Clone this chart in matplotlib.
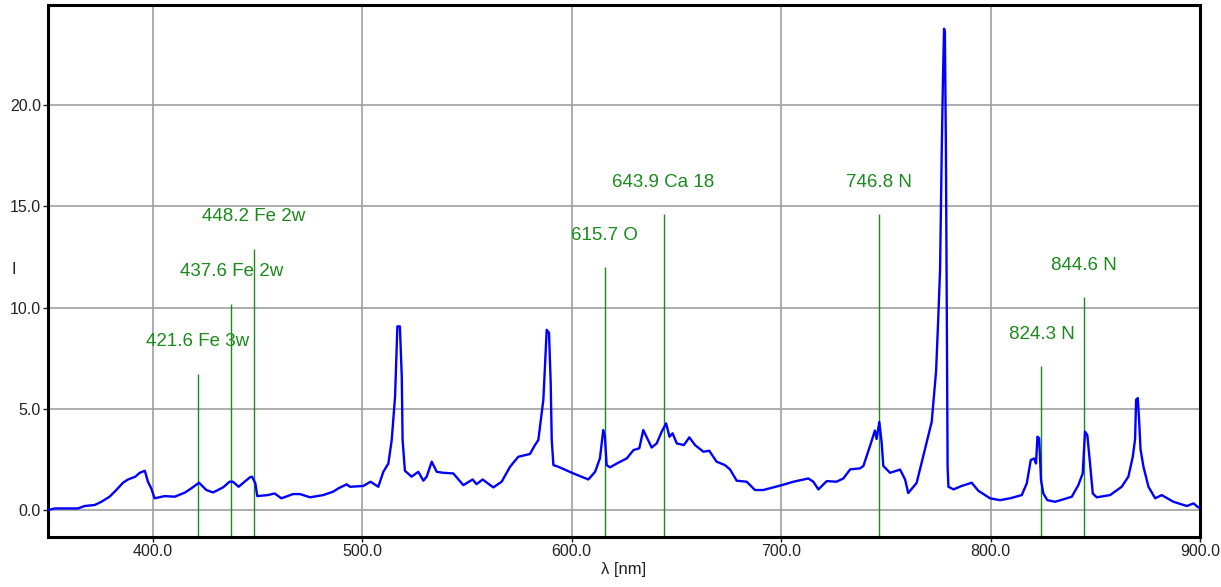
import matplotlib
matplotlib.use("Agg")
import matplotlib.pyplot as plt

plt.rcParams['font.family'] = ['Liberation Sans', 'DejaVu Sans']

# spectrum (wavelength nm, intensity)
wavelength = [350.0, 353.2, 364.3, 367.5, 372.3, 375.5, 379.4, 382.6, 385.8, 388.2, 391.7, 393.8,
              396.2, 396.6, 397.7, 399.3, 400.9, 405.7, 410.5, 415.3, 418.4, 422.1, 425.6, 428.8,
              433.6, 436.7, 438.3, 441.0, 443.9, 446.3, 447.4, 449.0, 449.9, 455.0, 458.2, 461.4,
              467.0, 470.3, 475.1, 481.4, 486.2, 488.6, 492.6, 494.2, 500.5, 504.0, 507.7, 510.1,
              512.5, 514.1, 515.7, 516.8, 518.0, 518.9, 519.3, 520.4, 523.6, 526.8, 529.2, 530.8,
              533.2, 535.6, 538.7, 543.5, 548.3, 552.7, 554.6, 557.5, 562.6, 566.6, 570.6, 574.5,
              580.1, 582.5, 584.1, 586.5, 588.1, 589.2, 590.0, 590.5, 591.3, 593.6, 600.8, 608.0,
              611.2, 613.5, 615.1, 615.9, 616.7, 618.3, 622.3, 626.3, 629.5, 632.3, 634.2, 636.1,
              638.2, 640.6, 643.0, 645.1, 646.7, 648.2, 650.2, 653.6, 656.2, 658.9, 662.9, 665.7,
              669.2, 673.2, 675.6, 678.8, 683.6, 687.5, 691.5, 696.3, 700.3, 705.9, 713.0, 715.4,
              717.8, 721.8, 726.5, 729.7, 733.0, 737.7, 739.3, 742.5, 744.8, 745.6, 746.9, 748.0,
              748.8, 752.0, 756.8, 759.2, 760.7, 764.7, 768.7, 771.9, 774.0, 775.0, 775.9, 776.7,
              777.3, 777.8, 778.2, 778.7, 779.2, 779.5, 779.9, 782.3, 786.2, 791.0, 794.2, 799.8,
              804.5, 809.3, 814.9, 817.3, 819.2, 820.8, 821.7, 822.4, 823.2, 824.1, 825.2, 827.1,
              830.8, 834.8, 838.8, 841.9, 844.0, 845.1, 846.2, 847.5, 848.8, 850.7, 857.1, 862.6,
              865.8, 867.9, 869.0, 869.5, 870.3, 871.0, 871.6, 873.0, 875.4, 878.6, 881.7, 887.3,
              893.7, 896.9, 899.2, 900.0]
intensity = [0.0, 0.08, 0.08, 0.2, 0.25, 0.41, 0.66, 0.99, 1.35, 1.51, 1.65, 1.84,
             1.94, 1.81, 1.40, 1.07, 0.58, 0.69, 0.66, 0.86, 1.07, 1.35, 0.99, 0.87,
             1.12, 1.40, 1.40, 1.15, 1.40, 1.61, 1.65, 1.32, 0.69, 0.74, 0.82, 0.58,
             0.79, 0.79, 0.63, 0.74, 0.91, 1.07, 1.27, 1.15, 1.19, 1.40, 1.15, 1.89,
             2.30, 3.46, 5.6, 9.07, 9.07, 6.6, 3.46, 1.94, 1.65, 1.89, 1.45, 1.65,
             2.39, 1.89, 1.84, 1.81, 1.23, 1.51, 1.28, 1.51, 1.12, 1.40, 2.14, 2.63,
             2.77, 3.21, 3.46, 5.45, 8.9, 8.75, 6.27, 3.46, 2.22, 2.14, 1.81, 1.51,
             1.89, 2.55, 3.95, 3.62, 2.22, 2.11, 2.34, 2.55, 2.96, 3.05, 3.95, 3.54,
             3.09, 3.29, 3.87, 4.28, 3.62, 3.79, 3.29, 3.21, 3.59, 3.21, 2.88, 2.93,
             2.39, 2.22, 2.01, 1.45, 1.40, 0.99, 0.99, 1.12, 1.23, 1.40, 1.56, 1.40,
             1.02, 1.43, 1.40, 1.56, 2.01, 2.06, 2.18, 3.18, 3.93, 3.51, 4.35, 3.35,
             2.18, 1.84, 2.0, 1.51, 0.84, 1.34, 3.01, 4.35, 6.86, 9.37, 11.88, 17.74,
             21.4, 23.77, 23.6, 17.74, 7.7, 2.1, 1.15, 1.02, 1.19, 1.35, 0.95, 0.58,
             0.49, 0.58, 0.74, 1.32, 2.47, 2.55, 2.30, 3.62, 3.54, 1.48, 0.82, 0.49,
             0.41, 0.53, 0.66, 1.23, 1.81, 3.87, 3.70, 2.30, 0.82, 0.63, 0.74, 1.15,
             1.65, 2.63, 3.5, 5.45, 5.53, 4.3, 3.0, 2.14, 1.15, 0.58, 0.74, 0.41,
             0.20, 0.33, 0.13, 0.15]

# element lines
line_pos = [421.6, 437.6, 448.2, 615.7, 643.9, 746.8, 824.3, 844.6]
line_top = [6.73, 10.2, 12.9, 12.0, 14.6, 14.6, 7.09, 10.5]
line_labels = ["421.6 Fe 3w", "437.6 Fe 2w", "448.2 Fe 2w", "615.7 O", "643.9 Ca 18",
               "746.8 N", "824.3 N", "844.6 N"]

x_ticks = [400, 500, 600, 700, 800, 900]
y_ticks = [0, 5, 10, 15, 20]

fig = plt.figure(figsize=(12.21, 5.87), dpi=100)
ax = fig.add_axes([48/1221, 1-537/587, (1200-48)/1221, (537-5)/587])

ymin, ymax = -1.33, 24.94
ax.set_xlim(350, 900)
ax.set_ylim(ymin, ymax)

ax.grid(True, color='#a0a0a0', linewidth=1.2)
ax.set_axisbelow(True)

green = '#1a8a1a'
ax.vlines(line_pos, ymin, line_top, colors=green, linewidth=1.0, zorder=2)
for xp, yt, lab in zip(line_pos, line_top, line_labels):
    ax.annotate(lab, (xp, yt), xytext=(0, 23), textcoords='offset points',
                ha='center', va='center', color=green, fontsize=13.5, zorder=4)

ax.plot(wavelength, intensity, color='#0000ff', linewidth=1.7, zorder=3)

ax.set_xticks(x_ticks)
ax.set_yticks(y_ticks)
ax.set_xticklabels([f"{v:.1f}" for v in x_ticks])
ax.set_yticklabels([f"{v:.1f}" for v in y_ticks])
ax.tick_params(direction='out', length=3.5, width=1, labelsize=11.5, colors='#222222', pad=1.5)

for s in ax.spines.values():
    s.set_linewidth(2.2)
    s.set_color('black')

ax.set_xlabel("λ [nm]", fontsize=12, color='#222222', labelpad=2)
fig.text(14/1221, 1-270/587, "I", fontsize=12, color='#222222', ha='center', va='center')

fig.savefig("out.png", dpi=100)
